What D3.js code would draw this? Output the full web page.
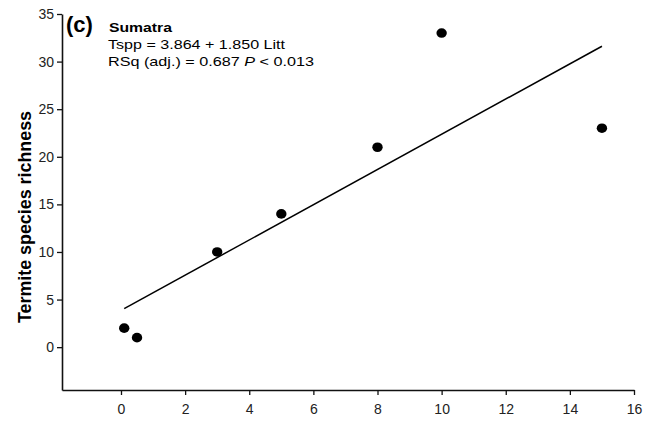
<!DOCTYPE html>
<html>
<head>
<meta charset="utf-8">
<script src="https://cdn.jsdelivr.net/npm/d3@7"></script>
<style>
  html, body { margin: 0; padding: 0; background: #fff; }
  svg { display: block; }
  text { font-family: "Liberation Sans", Arial, sans-serif; }
</style>
</head>
<body>
<svg id="chart" width="647" height="422"></svg>
<script>
// Data
const litter = [0.1, 0.5, 3, 5, 8, 10, 15];
const species = [2, 1, 10, 14, 21, 33, 23];
const xTicks = [0, 2, 4, 6, 8, 10, 12, 14, 16];
const yTicks = [0, 5, 10, 15, 20, 25, 30, 35];
const intercept = 3.864;
const slope = 1.850;
const fitRange = [0.1, 15];
const panelLabel = "(c)";
const siteName = "Sumatra";
const eqText = "Tspp = 3.864 + 1.850 Litt";
const statPrefix = "RSq (adj.) = 0.687 ";
const statP = "P";
const statSuffix = " < 0.013";
const yTitle = "Termite species richness";

const svg = d3.select("#chart");
const x = d3.scaleLinear().domain([-1.84, 16]).range([62, 634]);
const y = d3.scaleLinear().domain([-4.5, 35]).range([390, 14]);

// Axes
const xAxis = svg.append("g").attr("transform", `translate(0,${y(-4.5)})`)
  .call(d3.axisBottom(x).tickValues(xTicks).tickSize(5).tickPadding(9).tickSizeOuter(0));
const yAxis = svg.append("g").attr("transform", `translate(${x(-1.84)},0)`)
  .call(d3.axisLeft(y).tickValues(yTicks).tickSize(5).tickPadding(3).tickSizeOuter(0));
[xAxis, yAxis].forEach(a => {
  a.attr("font-size", null).attr("font-family", null);
  a.select(".domain").attr("stroke", "#111").attr("stroke-width", 1.6);
  a.selectAll(".tick line").attr("stroke", "#111").attr("stroke-width", 1.3);
  a.selectAll(".tick text").attr("fill", "#222")
    .style("font-size", "14px")
    .style("font-family", "'Liberation Sans', Arial, sans-serif");
});

// Fit line
svg.append("line")
  .attr("x1", x(fitRange[0])).attr("y1", y(intercept + slope * fitRange[0]))
  .attr("x2", x(fitRange[1])).attr("y2", y(intercept + slope * fitRange[1]))
  .attr("stroke", "#000").attr("stroke-width", 1.5);

// Points
svg.append("g").selectAll("ellipse").data(litter.map((v, i) => [v, species[i]]))
  .join("ellipse")
  .attr("cx", d => x(d[0])).attr("cy", d => y(d[1]))
  .attr("rx", 5.2).attr("ry", 4.8).attr("fill", "#000");

// Annotations
svg.append("text").attr("x", 66).attr("y", 32).attr("font-size", 22)
  .attr("font-weight", "bold").attr("fill", "#000").text(panelLabel);
svg.append("text").attr("x", 109).attr("y", 32).attr("font-size", 12.5)
  .attr("font-weight", "bold").attr("textLength", 63).attr("lengthAdjust", "spacingAndGlyphs")
  .attr("fill", "#000").text(siteName);
svg.append("text").attr("x", 108).attr("y", 49).attr("font-size", 13.5)
  .attr("textLength", 177).attr("lengthAdjust", "spacingAndGlyphs")
  .attr("fill", "#000").text(eqText);
const st = svg.append("text").attr("x", 108).attr("y", 66).attr("font-size", 13.5)
  .attr("textLength", 206).attr("lengthAdjust", "spacingAndGlyphs").attr("fill", "#000");
st.append("tspan").text(statPrefix);
st.append("tspan").attr("font-style", "italic").text(statP);
st.append("tspan").text(statSuffix);

// Y title
svg.append("text")
  .attr("transform", "translate(31,217) rotate(-90)")
  .attr("text-anchor", "middle").attr("font-size", 19).attr("font-weight", "bold")
  .attr("textLength", 212).attr("lengthAdjust", "spacingAndGlyphs")
  .attr("fill", "#000").text(yTitle);
</script>
</body>
</html>
